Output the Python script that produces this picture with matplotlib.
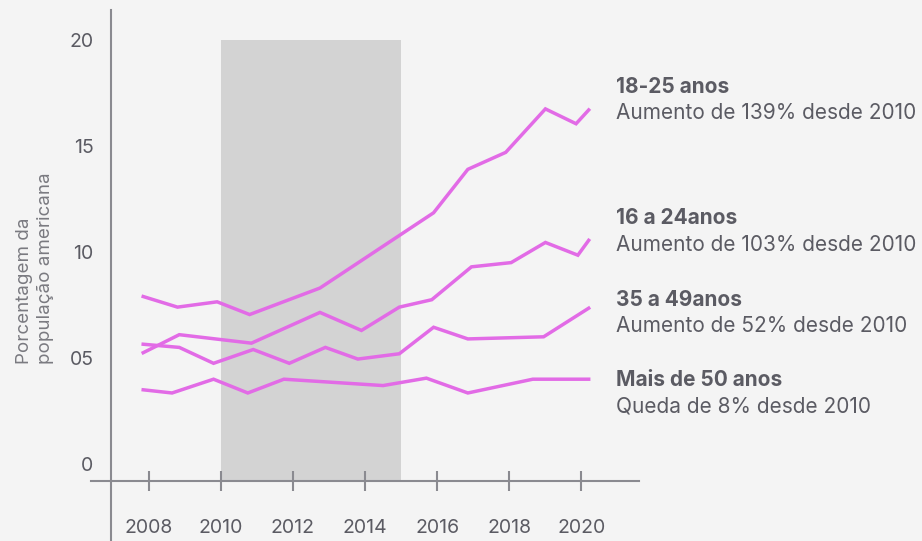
import matplotlib
matplotlib.use("Agg")
import matplotlib.pyplot as plt

plt.rcParams['font.family'] = ['Inter', 'DejaVu Sans']

# series (year, % of population)
years_1825 = [2007.85, 2008.8, 2009.9, 2010.8, 2012.75, 2015.9, 2016.85, 2017.9, 2019.0, 2019.85, 2020.2]
vals_1825 = [7.9, 7.4, 7.65, 7.05, 8.3, 11.85, 13.9, 14.7, 16.75, 16.05, 16.7]

years_1624 = [2007.85, 2008.85, 2010.85, 2012.75, 2013.9, 2014.95, 2015.85, 2016.95, 2018.05, 2019.0, 2019.9, 2020.2]
vals_1624 = [5.25, 6.1, 5.7, 7.15, 6.3, 7.4, 7.75, 9.3, 9.5, 10.45, 9.85, 10.55]

years_3549 = [2007.85, 2008.85, 2009.8, 2010.9, 2011.9, 2012.9, 2013.8, 2014.95, 2015.9, 2016.85, 2018.95, 2020.2]
vals_3549 = [5.65, 5.5, 4.75, 5.4, 4.75, 5.5, 4.95, 5.2, 6.45, 5.9, 6.0, 7.35]

years_50 = [2007.85, 2008.65, 2009.8, 2010.75, 2011.75, 2014.5, 2015.7, 2016.85, 2018.65, 2020.2]
vals_50 = [3.5, 3.35, 4.0, 3.35, 4.0, 3.7, 4.05, 3.35, 4.0, 4.0]

series = [years_1825, years_1624, years_3549, years_50]
values = [vals_1825, vals_1624, vals_3549, vals_50]

titles = ["18-25 anos", "16 a 24anos", "35 a 49anos", "Mais de 50 anos"]
subtitles = ["Aumento de 139% desde 2010", "Aumento de 103% desde 2010",
             "Aumento de 52% desde 2010", "Queda de 8% desde 2010"]
title_y = [17.8, 11.6, 7.75, 3.95]

x_ticks = [2008, 2010, 2012, 2014, 2016, 2018, 2020]
y_ticks = [0, 5, 10, 15, 20]
y_ticklabels = ["0", "05", "10", "15", "20"]
shade_start, shade_end = 2010, 2015

bg = '#f4f4f4'
line_color = '#e26be6'
text_color = '#5b5b63'
axis_color = '#8a8a90'

fig = plt.figure(figsize=(9.22, 5.41), dpi=100, facecolor=bg)
ax = fig.add_axes([0, 0, 1, 1])
ax.set_facecolor(bg)
ax.set_xlim(2003.88, 2029.44)
ax.set_ylim(-3.632, 21.887)

# grey period band
ax.fill_between([shade_start, shade_end], -0.8, 20, color='#d3d3d3', lw=0, zorder=1)

for xs, ys in zip(series, values):
    ax.plot(xs, ys, color=line_color, lw=2.5, solid_joinstyle='miter', zorder=3)

# labels at the right
for t, s, y in zip(titles, subtitles, title_y):
    ax.text(2020.97, y, t, fontsize=15, fontweight='bold', color=text_color, va='center', ha='left')
    ax.text(2020.97, y - 1.26, s, fontsize=15, color=text_color, va='center', ha='left')

# axes
for side in ['top', 'right']:
    ax.spines[side].set_visible(False)
ax.spines['left'].set_position(('data', 2006.97))
ax.spines['bottom'].set_position(('data', -0.8))
ax.spines['left'].set_bounds(-3.632, 21.4)
ax.spines['bottom'].set_bounds(2006.4, 2021.6)
for side in ['left', 'bottom']:
    ax.spines[side].set_color(axis_color)
    ax.spines[side].set_linewidth(1.5)

ax.set_xticks(x_ticks)
ax.set_xticklabels([str(x) for x in x_ticks])
ax.tick_params(axis='x', direction='inout', length=15, width=1.5, color=axis_color,
               labelsize=14, labelcolor=text_color, pad=20)
ax.set_yticks(y_ticks)
ax.set_yticklabels(y_ticklabels)
ax.tick_params(axis='y', length=0, labelsize=14, labelcolor=text_color, pad=13)

ax.text(2004.85, 4.72, "Porcentagem da\npopulação americana", rotation=90,
        ha='center', va='bottom', multialignment='left', fontsize=13.5,
        color='#7a7a80', linespacing=1.3)

fig.savefig('out.png', dpi=100, facecolor=bg)
